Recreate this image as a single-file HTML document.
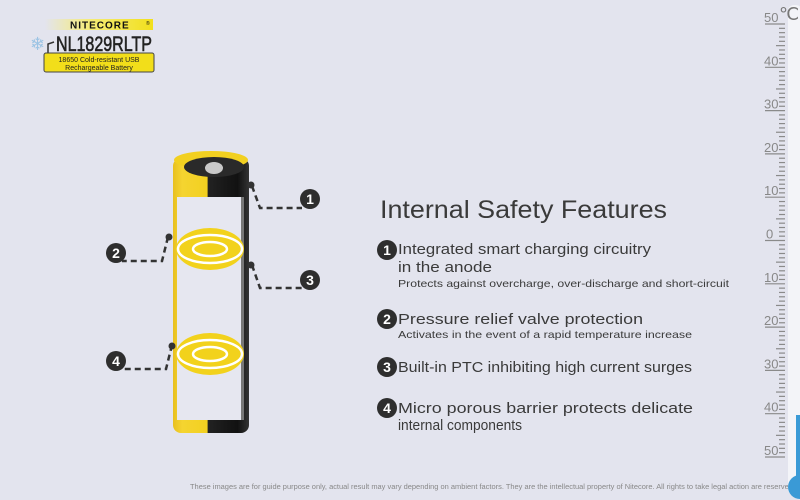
<!DOCTYPE html>
<html><head><meta charset="utf-8"><style>
html,body{margin:0;padding:0;background:#e3e4ee;}
svg{display:block;font-family:"Liberation Sans",sans-serif;}
</style></head><body>
<svg id="s" width="800" height="500" viewBox="0 0 800 500" xmlns="http://www.w3.org/2000/svg">
<rect width="800" height="500" fill="#e3e4ee"/>
<defs><linearGradient id="lg" x1="0" x2="1"><stop offset="0" stop-color="#e3e4ee"/><stop offset="0.4" stop-color="#f5ec7a"/><stop offset="1" stop-color="#f2e01c"/></linearGradient>
<linearGradient id="bat" x1="0" x2="1"><stop offset="0" stop-color="#e8c020"/><stop offset="0.12" stop-color="#f5d430"/><stop offset="0.45" stop-color="#f2d020"/><stop offset="0.46" stop-color="#222"/><stop offset="0.85" stop-color="#111"/><stop offset="1" stop-color="#333"/></linearGradient></defs>
<rect x="45" y="19" width="108" height="11" fill="url(#lg)"/>
<text x="70" y="28.5" font-size="10" font-weight="bold" fill="#111" letter-spacing="1">NITECORE</text>
<text x="146" y="25" font-size="5" fill="#111">®</text>
<text x="56" y="51" font-size="21" fill="#222" stroke="#222" stroke-width="0.6" textLength="96" lengthAdjust="spacingAndGlyphs">NL1829RLTP</text>
<text x="30" y="50" font-size="18" fill="#9cc4e4">❄</text>
<path d="M54 42 L48 44 L48 53" stroke="#333" stroke-width="1.5" fill="none"/>
<rect x="44" y="53" width="110" height="19" rx="2" fill="#f2de1a" stroke="#444" stroke-width="1"/>
<text x="99" y="62" font-size="7" fill="#222" text-anchor="middle">18650 Cold-resistant USB</text>
<text x="99" y="70" font-size="7" fill="#222" text-anchor="middle">Rechargeable Battery</text>
<!-- battery -->
<rect x="173" y="158" width="76" height="275" rx="8" fill="url(#bat)"/>
<ellipse cx="211" cy="160" rx="37" ry="9" fill="#f2d020"/>
<ellipse cx="214" cy="167" rx="30" ry="10" fill="#2a2a2a"/>
<ellipse cx="214" cy="168" rx="9" ry="6" fill="#c9c9c9"/>
<rect x="177" y="197" width="66" height="223" fill="#e6e7f0"/>
<rect x="241" y="197" width="3" height="223" fill="#777"/>
<g>
<ellipse cx="210" cy="249" rx="34" ry="21" fill="#f2d21c"/>
<ellipse cx="210" cy="249" rx="32" ry="14" fill="none" stroke="#fff" stroke-width="2.5"/>
<ellipse cx="210" cy="249" rx="17" ry="7" fill="none" stroke="#fff" stroke-width="2.5"/>
<ellipse cx="210" cy="354" rx="34" ry="21" fill="#f2d21c"/>
<ellipse cx="210" cy="354" rx="32" ry="14" fill="none" stroke="#fff" stroke-width="2.5"/>
<ellipse cx="210" cy="354" rx="17" ry="7" fill="none" stroke="#fff" stroke-width="2.5"/>
</g>
<g stroke="#333" stroke-width="2.5" stroke-dasharray="6,4" fill="none">
<path d="M252 186 L260 208 L302 208"/>
<path d="M168 237 L162 261 L122 261"/>
<path d="M252 265 L260 288 L302 288"/>
<path d="M172 345 L166 369 L122 369"/>
</g>
<g fill="#333"><circle cx="251" cy="185" r="3.5"/><circle cx="169" cy="237" r="3.5"/><circle cx="251" cy="265" r="3.5"/><circle cx="172" cy="346" r="3.5"/></g>
<g font-size="14" font-weight="bold" fill="#fff" text-anchor="middle">
<circle cx="310" cy="199" r="10" fill="#2e2e2e"/><text x="310" y="204">1</text>
<circle cx="116" cy="253" r="10" fill="#2e2e2e"/><text x="116" y="258">2</text>
<circle cx="310" cy="280" r="10" fill="#2e2e2e"/><text x="310" y="285">3</text>
<circle cx="116" cy="361" r="10" fill="#2e2e2e"/><text x="116" y="366">4</text>
</g>
<g fill="#3a3a3a">
<text x="380" y="218" font-size="25" textLength="287" lengthAdjust="spacingAndGlyphs">Internal Safety Features</text>
<text x="398" y="254" font-size="15" textLength="253" lengthAdjust="spacingAndGlyphs">Integrated smart charging circuitry</text>
<text x="398" y="272" font-size="15" textLength="94" lengthAdjust="spacingAndGlyphs">in the anode</text>
<text x="398" y="287" font-size="10.5" textLength="331" lengthAdjust="spacingAndGlyphs">Protects against overcharge, over-discharge and short-circuit</text>
<text x="398" y="324" font-size="15" textLength="245" lengthAdjust="spacingAndGlyphs">Pressure relief valve protection</text>
<text x="398" y="338" font-size="10.5" textLength="294" lengthAdjust="spacingAndGlyphs">Activates in the event of a rapid temperature increase</text>
<text x="398" y="372" font-size="15" textLength="294" lengthAdjust="spacingAndGlyphs">Built-in PTC inhibiting high current surges</text>
<text x="398" y="413" font-size="15" textLength="295" lengthAdjust="spacingAndGlyphs">Micro porous barrier protects delicate</text>
<text x="398" y="430" font-size="15" textLength="124" lengthAdjust="spacingAndGlyphs">internal components</text>
</g>
<g font-size="14" font-weight="bold" fill="#fff" text-anchor="middle">
<circle cx="387" cy="250" r="10" fill="#2e2e2e"/><text x="387" y="255">1</text>
<circle cx="387" cy="319" r="10" fill="#2e2e2e"/><text x="387" y="324">2</text>
<circle cx="387" cy="367" r="10" fill="#2e2e2e"/><text x="387" y="372">3</text>
<circle cx="387" cy="408" r="10" fill="#2e2e2e"/><text x="387" y="413">4</text>
</g>
<text x="190" y="489" font-size="7" fill="#888" textLength="605" lengthAdjust="spacingAndGlyphs">These images are for guide purpose only, actual result may vary depending on ambient factors. They are the intellectual property of Nitecore. All rights to take legal action are reserved.</text>
<rect x="788" y="5" width="14" height="490" rx="6" fill="#f3f4f8"/>
<rect x="796" y="415" width="6" height="70" fill="#3a9ad6"/>
<circle cx="800" cy="487" r="12" fill="#3a9ad6"/>
<text x="779" y="20" font-size="18" fill="#777">℃</text>
<g id="th" stroke="#8a8a8a" stroke-width="1.2"></g>
<g id="tl" font-size="13" fill="#888"></g>
</svg>
<script>
var th=document.getElementById('th'),tl=document.getElementById('tl'),ns='http://www.w3.org/2000/svg';
var labels=['50','40','30','20','10','0','10','20','30','40','50'];
for(var i=0;i<=100;i++){var y=24+i*4.33;var major=i%10==0,mid=i%5==0;
var l=document.createElementNS(ns,'line');l.setAttribute('x1',major?765:(mid?776:779));l.setAttribute('x2',785);l.setAttribute('y1',y);l.setAttribute('y2',y);th.appendChild(l);
if(major){var t=document.createElementNS(ns,'text');t.setAttribute('x',i==50?766:764);t.setAttribute('y',y-2);t.textContent=labels[i/10];tl.appendChild(t);}}
</script>
</body></html>
